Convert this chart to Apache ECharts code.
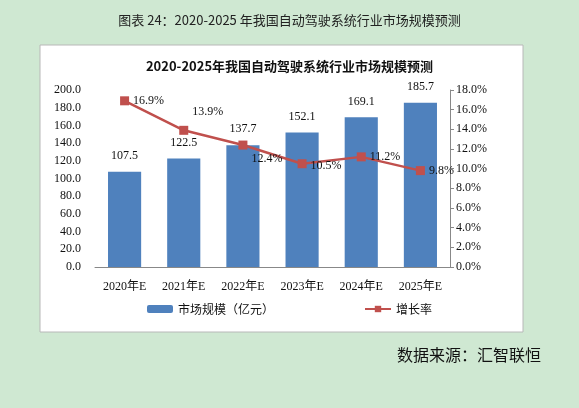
<!DOCTYPE html>
<html><head><meta charset="utf-8">
<script src="https://cdn.jsdelivr.net/npm/echarts@6/dist/echarts.min.js"></script>
<style>html,body{margin:0;background:#cfe8d2}#c{width:579px;height:408px}</style>
</head><body><div id="c"></div>
<script>
const categories = ['2020年E', '2021年E', '2022年E', '2023年E', '2024年E', '2025年E'];
const marketSize = [107.5, 122.5, 137.7, 152.1, 169.1, 185.7];
const growthRate = [16.9, 13.9, 12.4, 10.5, 11.2, 9.8];
// label offsets per point for growth rate (as in reference)
const rateLabelOffsets = [[0, 0], [0, -18], [0, 14], [0, 2], [0, 0], [0, 0]];

const chart = echarts.init(document.getElementById('c'));
const serif = '"Liberation Serif", "Noto Sans CJK SC", serif';
const cjk = '"Noto Sans CJK SC", sans-serif';

chart.setOption({
  backgroundColor: '#cfe8d2',
  animation: false,
  graphic: [
    { type: 'rect', z: -10, shape: { x: 40, y: 45, width: 483, height: 287 },
      style: { fill: '#fff', stroke: '#b8b8b8', lineWidth: 1 } },
    { type: 'text', left: 'center', top: 14, style: { text: '图表 24：2020-2025 年我国自动驾驶系统行业市场规模预测', font: '13px ' + cjk, fill: '#222' } },
    { type: 'text', left: 397, top: 347, style: { text: '数据来源：汇智联恒', font: '16px ' + cjk, fill: '#111' } },
  ],
  title: {
    text: '2020-2025年我国自动驾驶系统行业市场规模预测',
    left: 'center', top: 55,
    textStyle: { fontFamily: cjk, fontSize: 13, fontWeight: 'bold', color: '#111' },
  },
  grid: { left: 95, right: 129, top: 90, bottom: 141 },
  legend: {
    bottom: 88, itemGap: 90, itemWidth: 26, itemHeight: 8,
    textStyle: { fontFamily: cjk, fontSize: 12, color: '#111' },
    data: ['市场规模（亿元）', '增长率'],
  },
  xAxis: {
    type: 'category', data: categories,
    axisTick: { show: false },
    axisLine: { lineStyle: { color: '#888' } },
    axisLabel: { interval: 0, fontFamily: serif, fontSize: 12, color: '#111', margin: 14 },
  },
  yAxis: [
    { type: 'value', min: 0, max: 200, interval: 20,
      splitLine: { show: false }, axisLine: { show: false },
      axisLabel: { formatter: v => v.toFixed(1), fontFamily: serif, fontSize: 12, color: '#111', margin: 14 } },
    { type: 'value', min: 0, max: 18, interval: 2,
      splitLine: { show: false },
      axisLine: { show: true, lineStyle: { color: '#888' } },
      axisTick: { show: true, length: 4 },
      axisLabel: { formatter: v => v.toFixed(1) + '%', fontFamily: serif, fontSize: 12, color: '#111', margin: 6 } },
  ],
  series: [
    { name: '市场规模（亿元）', type: 'bar', data: marketSize, barWidth: '56%',
      itemStyle: { color: '#4f81bd' },
      label: { show: true, position: 'top', distance: 10, formatter: p => p.value.toFixed(1),
        fontFamily: serif, fontSize: 12, color: '#111' } },
    { name: '增长率', type: 'line', yAxisIndex: 1,
      data: growthRate.map((v, i) => ({ value: v, label: { offset: rateLabelOffsets[i] } })),
      symbol: 'rect', symbolSize: 9,
      lineStyle: { color: '#c0504d', width: 2.5 }, itemStyle: { color: '#c0504d' },
      label: { show: true, position: 'right', distance: 4, formatter: p => p.value.toFixed(1) + '%',
        fontFamily: serif, fontSize: 12, color: '#111' } },
  ],
});
</script></body></html>
